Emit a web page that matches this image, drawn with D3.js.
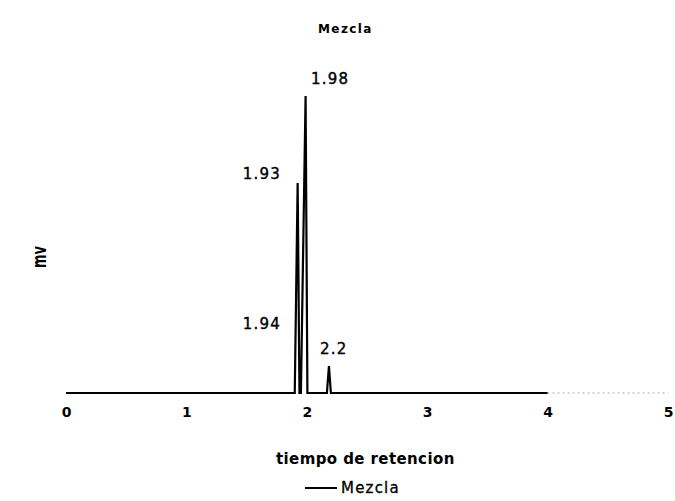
<!DOCTYPE html>
<html>
<head>
<meta charset="utf-8">
<script src="https://cdn.jsdelivr.net/npm/d3@7"></script>
<style>
  body { margin: 0; background: #fff; }
  text { font-family: "DejaVu Sans", sans-serif; fill: #000; }
</style>
</head>
<body>
<svg id="chart" width="675" height="501"></svg>
<script>
// tiempo de retencion (min) y señal (mv, relativa)
const tiempo = [0, 1.90, 1.924, 1.939, 1.951, 1.990, 2.005, 2.167, 2.184, 2.200, 4.0];
const senal  = [0, 0,    70.7,  0,     0,     100,   0,     0,     9.1,   0,     0];

// etiquetas de picos
const picoTexto = ["1.98", "1.93", "1.94", "2.2"];
const picoX = [2.035, 1.785, 1.785, 2.11];
const picoY = [105.4, 73.7, 22.9, 14.5];

const xTicks = [0, 1, 2, 3, 4, 5];

const svg = d3.select("#chart");
const margin = { left: 66, right: 7, top: 96, bottom: 108 };
const W = 675, H = 501;

const x = d3.scaleLinear().domain([0, 5]).range([margin.left, W - margin.right]);
const y = d3.scaleLinear().domain([0, 100]).range([H - margin.bottom, margin.top]);

// titulo
svg.append("text")
  .attr("x", 318).attr("y", 33)
  .attr("font-size", 12).attr("font-weight", "bold")
  .attr("letter-spacing", 1.4)
  .text("Mezcla");

// eje x: linea base punteada hasta 5
svg.append("line")
  .attr("x1", x(4)).attr("x2", x(5))
  .attr("y1", y(0)).attr("y2", y(0))
  .attr("stroke", "#aaa").attr("stroke-width", 1)
  .attr("stroke-dasharray", "2,3");

const xAxis = svg.append("g")
  .attr("transform", `translate(0,${y(0)})`)
  .call(d3.axisBottom(x).tickValues(xTicks).tickSize(0).tickPadding(14).tickFormat(d3.format("d")));
xAxis.select(".domain").remove();
xAxis.selectAll("text")
  .attr("font-size", 14).attr("font-weight", "bold")
  .attr("font-family", "DejaVu Sans, sans-serif")
  .attr("fill", "#000");

// cromatograma
const line = d3.line().x((d, i) => x(tiempo[i])).y(d => y(d));
svg.append("path")
  .datum(senal)
  .attr("d", line)
  .attr("fill", "none")
  .attr("stroke", "#000")
  .attr("stroke-width", 2.2)
  .attr("stroke-linejoin", "miter");

// etiquetas de picos
svg.selectAll(".pico")
  .data(picoTexto)
  .join("text")
  .attr("class", "pico")
  .attr("x", (d, i) => x(picoX[i]))
  .attr("y", (d, i) => y(picoY[i]))
  .attr("font-size", 15)
  .attr("letter-spacing", 1.2)
  .attr("stroke", "#000").attr("stroke-width", 0.4)
  .attr("text-anchor", (d, i) => picoX[i] < 1.9 ? "end" : "start")
  .attr("dominant-baseline", "middle")
  .text(d => d);

// titulo eje y
svg.append("text")
  .attr("transform", "translate(46,257) rotate(-90) scale(1,1.5)")
  .attr("text-anchor", "middle")
  .attr("font-size", 13).attr("font-weight", "bold")
  .text("mv");

// titulo eje x
svg.append("text")
  .attr("x", 276).attr("y", 464)
  .attr("font-size", 15).attr("font-weight", "bold")
  .attr("letter-spacing", 0.4)
  .text("tiempo de retencion");

// leyenda
svg.append("line")
  .attr("x1", 305).attr("x2", 337)
  .attr("y1", 488).attr("y2", 488)
  .attr("stroke", "#000").attr("stroke-width", 2);
svg.append("text")
  .attr("x", 341).attr("y", 493)
  .attr("font-size", 15)
  .attr("letter-spacing", 1.2)
  .attr("stroke", "#000").attr("stroke-width", 0.3)
  .text("Mezcla");
</script>
</body>
</html>
